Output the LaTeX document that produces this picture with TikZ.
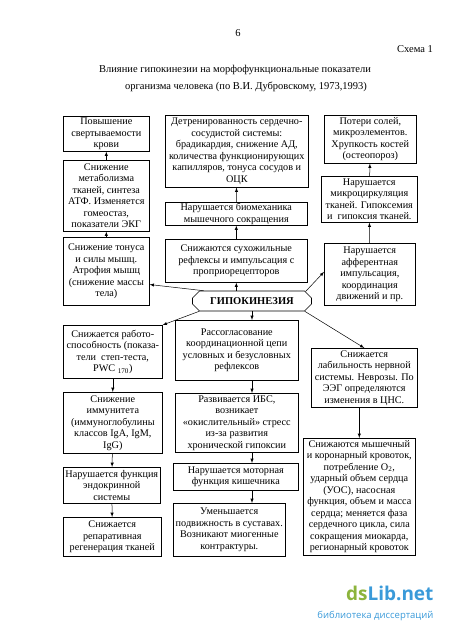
\documentclass[tikz,border=0pt]{standalone}
\usepackage{fontspec}
\setmainfont{Liberation Serif}
\newfontfamily\wmfont{Open Sans}
\usetikzlibrary{shapes,
                shapes.misc,
                arrows,
                positioning}
\definecolor{wmgreen}{HTML}{8CB43C}
\definecolor{wmblue}{HTML}{3A9AD9}
\tikzset{block/.style=
   {rectangle,
    draw,
    line width=0.6pt,
    text centered,
    align=center,
    anchor=north west,
    inner sep=1pt,
    font=\fontsize{10.2}{11.5}\selectfont}}
\tikzset{hexagon/.style =
   {chamfered rectangle,
    chamfered rectangle xsep=3.5pt,
    chamfered rectangle ysep=3.5pt,
    draw,
    line width=0.6pt,
    minimum width=119pt,
    minimum height=20pt,
    inner sep=0pt,
    font=\fontsize{10.5}{12}\selectfont\bfseries}}
\tikzset{heading/.style = {font=\fontsize{10.5}{12}\selectfont}}
\tikzset{arrow/.style = {draw, line width=0.5pt, -latex}}

\begin{document}
\begin{tikzpicture}[x=1pt, y=-1pt, auto]

    \useasboundingbox (0,0) rectangle (450,628);

    % header
    \node [heading] (page) at (238,33) {6};
    \node [heading] (scheme) at (415,49) {Схема 1};
    \node [heading] (title1) at (235,70)
          {Влияние гипокинезии на морфофункциональные показатели};
    \node [heading] (title2) at (246,87)
          {организма человека (по В.И. Дубровскому, 1973,1993)};

    % left column
    \node [block,
           minimum width=86pt,
           minimum height=35pt] (blood) at (63,116)
          {Повышение\\ свертываемости\\ крови};

    \node [block,
           minimum width=86pt,
           minimum height=71pt] (metab) at (63,160)
          {Снижение\\ метаболизма\\ тканей, синтеза\\ АТФ. Изменяется\\ гомеостаз,\\ показатели ЭКГ};

    \node [block,
           minimum width=86pt,
           minimum height=68pt] (tonus) at (63,237)
          {Снижение тонуса\\ и силы мышц.\\ Атрофия мышц\\ (снижение массы\\ тела)};

    \node [block,
           minimum width=99pt,
           minimum height=53pt] (work) at (63,325)
          {Снижается работо-\\способность (показа-\\тели~ степ-теста,\\ PWC \textsubscript{170})};

    \node [block,
           minimum width=99pt,
           minimum height=61pt] (immun) at (63,392)
          {Снижение\\ иммунитета\\ (иммуноглобулины\\ классов IgA, IgM,\\ IgG)};

    \node [block,
           minimum width=97pt,
           minimum height=36pt] (endo) at (63,467)
          {Нарушается функция\\ эндокринной\\ системы};

    \node [block,
           minimum width=98pt,
           minimum height=39pt] (regen) at (63,517)
          {Снижается\\ репаративная\\ регенерация тканей};

    % middle column
    \node [block,
           minimum width=143pt,
           minimum height=72pt] (heart) at (165,115)
          {Детренированность сердечно-\\ сосудистой системы:\\ брадикардия, снижение АД,\\ количества функционирующих\\ капилляров, тонуса сосудов и\\ ОЦК};

    \node [block,
           minimum width=142pt,
           minimum height=23pt] (biomech) at (165,202)
          {Нарушается биомеханика\\ мышечного сокращения};

    \node [block,
           minimum width=142pt,
           minimum height=43pt] (reflex) at (165,239)
          {Снижаются сухожильные\\ рефлексы и импульсация с\\ проприорецепторов};

    \node [hexagon] (hypo) at (252,301) {ГИПОКИНЕЗИЯ};

    \node [block,
           minimum width=123pt,
           minimum height=60pt] (coord) at (175,320)
          {Рассогласование\\ координационной цепи\\ условных и безусловных\\ рефлексов};

    \node [block,
           minimum width=123pt,
           minimum height=59pt] (ibs) at (175,393)
          {Развивается ИБС,\\ возникает\\ «окислительный» стресс\\ из-за развития\\ хронической гипоксии};

    \node [block,
           minimum width=125pt,
           minimum height=27pt] (bowel) at (173,463)
          {Нарушается моторная\\ функция кишечника};

    \node [block,
           minimum width=112pt,
           minimum height=53pt] (joints) at (173,503)
          {Уменьшается\\ подвижность в суставах.\\ Возникают миогенные\\ контрактуры.};

    % right column
    \node [block,
           minimum width=92pt,
           minimum height=48pt] (bones) at (324,115)
          {Потери солей,\\ микроэлементов.\\ Хрупкость костей\\ (остеопороз)};

    \node [block,
           minimum width=96pt,
           minimum height=46pt] (micro) at (321,176)
          {Нарушается\\ микроциркуляция\\ тканей. Гипоксемия\\ и~ гипоксия тканей.};

    \node [block,
           minimum width=91pt,
           minimum height=62pt] (afferent) at (324,243)
          {Нарушается\\ афферентная\\ импульсация,\\ координация\\ движений и пр.};

    \node [block,
           minimum width=106pt,
           minimum height=59pt] (nerve) at (311,348)
          {Снижается\\ лабильность нервной\\ системы. Неврозы. По\\ ЭЭГ определяются\\ изменения в ЦНС.};

    \node [block,
           minimum width=112pt,
           minimum height=117pt] (flow) at (303,438)
          {Снижаются мышечный\\ и коронарный кровоток,\\ потребление O\textsubscript{2},\\ ударный объем сердца\\ (УОС), насосная\\ функция, объем и масса\\ сердца; меняется фаза\\ сердечного цикла, сила\\ сокращения миокарда,\\ регионарный кровоток};

    % arrows
    \path [arrow] (metab) -- (blood);
    \path [arrow] (tonus) -- (metab);
    \path [arrow] (hypo.168) -- (tonus.-17);
    \path [arrow] (hypo.north -| reflex.south) -- (reflex.south);
    \path [arrow] (reflex) -- (biomech);
    \path [arrow] (biomech) -- (heart);
    \path [arrow] (hypo.10) -- (afferent.177);
    \path [arrow] (afferent) -- (micro);
    \path [arrow] (micro) -- (bones);
    \path [arrow] (hypo.191) -- (work.north east);
    \path [arrow] (work) -- (immun);
    \path [arrow] (immun) -- (endo);
    \path [arrow] (endo) -- (regen);
    \path [arrow] (hypo.south) -- (hypo.south |- coord.north);
    \path [arrow] (coord.south -| hypo) -- (ibs.north -| hypo);
    \path [arrow] (ibs.south -| hypo) -- (bowel.north -| hypo);
    \path [arrow] (bowel.south -| hypo) -- (joints.north -| hypo);
    \path [arrow] (hypo.-11) -- (nerve.north);
    \path [arrow] (nerve.south -| flow) -- (flow.north);

    % watermark
    \node [font=\wmfont\bfseries\fontsize{19}{20}\selectfont,
           anchor=east] (wmlogo) at (437,593)
          {\textcolor{wmgreen}{ds}\textcolor{wmblue}{Lib.net}};
    \node [font=\wmfont\fontsize{9.5}{11}\selectfont,
           text=wmblue,
           anchor=east] (wmtext) at (437,616)
          {библиотека диссертаций};

\end{tikzpicture}
\end{document}
